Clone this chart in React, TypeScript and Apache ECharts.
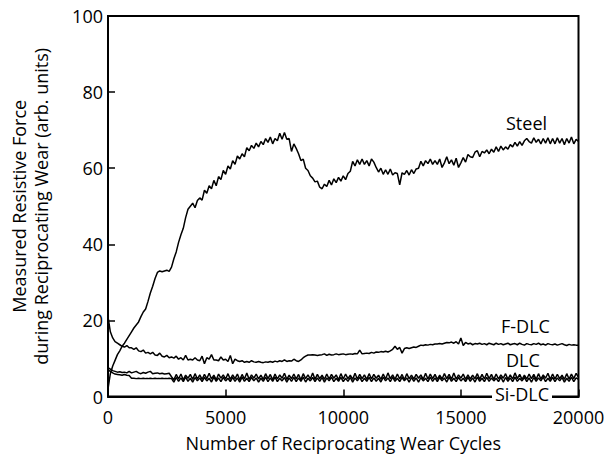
import React, { useEffect, useRef } from "react";
import * as echarts from "echarts";

// Sampling of the wear-cycle axis (every 100 cycles, 0..20000)
const cycles: number[] = Array.from({ length: 201 }, (_, i) => i * 100);

const steel: number[] = [
  2, 6, 8, 9.5, 11, 12, 13.2, 14, 15, 16,
  17, 18, 18.8, 19.6, 21, 22.2, 23, 25, 27.2, 29,
  31, 32.6, 33, 32.8, 33, 33.2, 32.9, 34, 36.2, 38,
  40.5, 42.5, 44.2, 47, 49.2, 50, 50.8, 49.6, 51.5, 52.2,
  51.6, 54.2, 53.4, 55.4, 54.6, 56.8, 55.4, 57.8, 57, 59.4,
  58.4, 60.6, 59.8, 62, 61, 63.2, 62.4, 63.8, 63, 65.4,
  64.6, 66, 65.2, 66.6, 65.6, 67, 66.2, 67.8, 66.8, 68.2,
  66.4, 67.8, 67.2, 69.2, 67.6, 69.4, 67.6, 67.8, 64.4, 66.4,
  65.2, 63.8, 62, 62.4, 60, 59.4, 58, 57.4, 56.4, 56.6,
  55, 54.6, 55.8, 55.2, 56.8, 55.6, 57.2, 56.2, 57.6, 56.6,
  58, 57, 58.6, 59.2, 61.8, 60.6, 62.2, 61, 62.4, 61,
  62, 60.6, 62.4, 61.6, 60.2, 59, 60, 58.4, 59.6, 58.4,
  59.8, 58.2, 58.8, 58.6, 55.6, 58.8, 58.4, 59.4, 58.2, 59.6,
  58.6, 59.8, 60, 61.8, 60.6, 62, 61.2, 62.4, 61, 62,
  61, 62.4, 60.2, 61.4, 63, 61.2, 62.2, 60.8, 62.6, 60.2,
  61.4, 62.8, 61.6, 63.6, 63, 62.8, 64.2, 64.6, 63, 64.4,
  64, 64.8, 63.8, 65, 64.2, 65.6, 64.4, 65.8, 64.8, 65.6,
  65, 66.2, 65.6, 66.8, 65.8, 67, 66, 67.2, 67.8, 67,
  66.6, 68, 66.8, 67.6, 66.4, 67.8, 66.6, 68, 66.4, 67.8,
  66.4, 68, 66.6, 67.8, 66.2, 67.8, 66.6, 68.2, 66.4, 67.6,
  67,
];

const fdlc: number[] = [
  21, 17, 15.4, 14.4, 14, 13.6, 13.2, 13, 13.4, 12.8,
  12.8, 12.4, 12.8, 12, 11.8, 12.2, 11.4, 11.6, 11.2, 11.6,
  10.9, 10.8, 11.4, 10.6, 10.4, 10.8, 10.2, 10.4, 10.1, 10.6,
  9.8, 10.2, 9.6, 10.8, 9.6, 9.8, 9.6, 10.2, 9.6, 9.4,
  10.6, 8.6, 10.2, 9.8, 11, 9.6, 9.6, 9.4, 10.4, 9.6,
  9.8, 9.2, 10.8, 8.6, 9.8, 9.4, 9.2, 9.4, 9.0, 9.2,
  9, 9.4, 9.1, 9, 9.2, 9, 8.9, 9.1, 9, 9.2,
  9, 9.3, 9.1, 9.4, 9.2, 9.6, 9.2, 9.4, 9.3, 9.8,
  9.4, 9.2, 9.6, 10.2, 10.6, 10.9, 10.9, 11, 10.9, 10.8,
  10.9, 11, 11.2, 10.8, 11.1, 10.9, 11, 11.2, 11, 11.1,
  11.2, 11, 11.1, 11.2, 11.1, 11.3, 11.2, 12.2, 11.2, 11.3,
  11.4, 11.3, 11.6, 11.4, 11.7, 11.6, 11.8, 11.7, 11.9, 11.7,
  12, 12.4, 13.2, 12.4, 12.9, 11.4, 12.6, 12.8, 12.6, 12.8,
  13, 12.9, 13.2, 13.5, 13.4, 13.6, 13.5, 13.7, 13.6, 13.8,
  13.8, 13.9, 13.8, 14, 14.2, 14.1, 14.3, 14, 14.4, 13.8,
  15.4, 13.4, 14.2, 13.8, 14, 13.6, 13.9, 13.8, 14, 13.7,
  13.9, 13.6, 14, 13.8, 13.6, 14, 13.7, 13.9, 13.6, 13.8,
  14, 13.6, 13.8, 13.9, 13.6, 14, 13.7, 13.5, 13.9, 13.7,
  13.6, 13.9, 13.7, 14, 13.6, 13.8, 13.5, 13.9, 13.7, 13.6,
  13.8, 13.5, 13.7, 13.9, 13.6, 13.4, 13.7, 13.5, 13.6, 13.5,
  13.5,
];

const dlc: number[] = [
  7.6, 7.2, 6.8, 6.6, 6.4, 6.5, 6.3, 6.4, 6.2, 6.6,
  6.2, 6.4, 6.6, 6.2, 6.0, 6.3, 6.1, 6.4, 6.6, 6.0,
  6.1, 6.2, 6.0, 6.1, 5.9, 6.0, 6.1, 5.2, 4.4, 5.8,
  4.6, 5.9, 4.4, 5.6, 4.8, 5.8, 4.5, 6.0, 4.6, 5.7,
  4.5, 5.8, 4.7, 6.1, 4.6, 5.6, 4.4, 5.9, 4.8, 5.7,
  4.6, 6.0, 4.5, 5.7, 4.7, 5.9, 4.4, 5.8, 4.6, 6.2,
  4.5, 5.7, 4.8, 5.9, 4.6, 5.6, 4.5, 6.0, 4.7, 5.8,
  4.4, 5.9, 4.6, 5.7, 4.8, 6.1, 4.5, 5.6, 4.7, 5.9,
  4.6, 5.8, 4.4, 6.0, 4.7, 5.7, 4.6, 6.2, 4.5, 5.8,
  4.7, 5.6, 4.5, 5.9, 4.6, 5.8, 4.8, 5.7, 4.4, 6.0,
  4.6, 5.9, 4.7, 5.6, 4.5, 6.1, 4.6, 5.8, 4.7, 5.7,
  4.5, 6.0, 4.6, 5.8, 4.8, 5.6, 4.5, 5.9, 4.6, 6.2,
  4.7, 5.7, 4.5, 5.9, 4.6, 5.8, 4.4, 6.0, 4.7, 5.6,
  4.6, 5.8, 4.8, 5.7, 4.5, 6.1, 4.6, 5.9, 4.7, 5.8,
  4.5, 5.6, 4.6, 6.0, 4.7, 5.8, 4.5, 6.2, 4.6, 5.7,
  4.8, 5.9, 4.5, 5.7, 4.6, 5.6, 4.7, 6.0, 4.5, 5.8,
  4.6, 6.1, 4.7, 5.8, 4.5, 5.9, 4.6, 5.7, 4.8, 6.0,
  4.5, 5.7, 4.6, 6.2, 4.7, 5.8, 4.5, 5.6, 4.6, 5.9,
  4.7, 5.8, 4.5, 6.0, 4.6, 5.7, 4.8, 6.1, 4.5, 5.9,
  4.6, 5.8, 4.7, 5.6, 4.5, 6.0, 4.6, 5.9, 4.7, 6.1,
  5.0,
];

const sidlc: number[] = [
  7.0, 6.6, 6.2, 5.9, 5.8, 5.7, 5.6, 5.8, 5.6, 5.5,
  4.8, 4.8, 4.7, 4.8, 4.7, 4.8, 4.7, 4.7, 4.8, 4.7,
  4.8, 4.7, 4.7, 4.8, 4.7, 4.7, 4.8, 4.7, 3.8, 5.0,
  4.0, 4.9, 3.9, 5.1, 4.0, 4.8, 3.8, 5.0, 4.1, 4.9,
  3.9, 5.0, 4.1, 4.8, 3.8, 5.1, 4.0, 4.9, 3.9, 5.0,
  4.1, 4.8, 3.9, 5.0, 4.0, 4.9, 3.8, 5.1, 4.0, 4.8,
  3.9, 5.0, 4.1, 4.9, 3.8, 4.8, 4.0, 5.1, 3.9, 4.9,
  4.0, 5.1, 3.9, 4.8, 4.1, 5.0, 3.8, 4.9, 4.0, 5.0,
  3.9, 4.9, 4.0, 5.1, 3.8, 4.8, 4.1, 5.0, 3.9, 4.9,
  4.0, 5.0, 3.8, 4.9, 4.1, 5.1, 3.9, 4.8, 4.0, 5.0,
  3.9, 4.8, 4.0, 5.0, 3.8, 4.9, 4.1, 5.1, 3.9, 4.8,
  4.0, 5.0, 3.9, 4.9, 4.0, 4.8, 3.8, 5.1, 4.1, 4.9,
  3.9, 5.1, 4.0, 4.8, 3.9, 5.0, 4.1, 4.9, 3.8, 5.0,
  4.0, 4.9, 3.8, 5.0, 4.1, 4.8, 3.9, 5.1, 4.0, 4.9,
  3.9, 5.0, 4.1, 4.9, 3.8, 5.1, 4.0, 4.8, 3.9, 5.0,
  4.1, 4.8, 3.9, 5.0, 4.0, 4.9, 3.8, 5.1, 4.0, 4.8,
  3.9, 5.0, 4.0, 4.9, 4.1, 4.8, 3.9, 5.1, 3.8, 5.0,
  4.0, 4.9, 3.9, 5.1, 4.0, 4.8, 4.1, 5.0, 3.9, 4.9,
  3.8, 5.0, 4.0, 4.9, 4.1, 5.1, 3.9, 4.8, 4.0, 5.0,
  3.9, 4.9, 4.1, 5.0, 3.8, 4.8, 4.0, 5.1, 3.9, 4.9,
  4.5,
];

const seriesNames = ["Steel", "F-DLC", "DLC", "Si-DLC"];
const xTicks = [0, 5000, 10000, 15000, 20000];
const yTicks = [0, 20, 40, 60, 80, 100];

const FONT = "'Open Sans', 'Noto Sans', sans-serif";

export default function App() {
  const ref = useRef<HTMLDivElement>(null);

  useEffect(() => {
    document.body.style.margin = "0";
    if (!ref.current) return;
    const chart = echarts.init(ref.current, undefined, { renderer: "svg" });

    const pairs = (vals: number[]) => cycles.map((c, i) => [c, vals[i]]);
    const all = [steel, fdlc, dlc, sidlc];

    const axisCommon = {
      axisLine: { show: true, lineStyle: { color: "#000", width: 2 } },
      axisTick: { show: true, inside: true, length: 7, lineStyle: { color: "#000", width: 1.5 } },
      splitLine: { show: false },
    };

    chart.setOption({
      animation: false,
      backgroundColor: "#fff",
      grid: {
        left: 108,
        right: 28.5,
        top: 16,
        bottom: 64.5,
        show: true,
        borderColor: "#000",
        borderWidth: 2,
        containLabel: false,
        outerBoundsMode: "none",
      },
      xAxis: {
        type: "value",
        min: xTicks[0],
        max: xTicks[xTicks.length - 1],
        interval: 5000,
        ...axisCommon,
        axisLabel: {
          color: "#000",
          fontFamily: FONT,
          fontSize: 18,
          margin: 11,
          formatter: (v: number) => String(v),
        },
        name: "Number of Reciprocating Wear Cycles",
        nameLocation: "middle",
        nameGap: 37,
        nameTextStyle: { color: "#000", fontFamily: FONT, fontSize: 18 },
      },
      yAxis: {
        type: "value",
        min: yTicks[0],
        max: yTicks[yTicks.length - 1],
        interval: 20,
        ...axisCommon,
        axisLabel: {
          color: "#000",
          fontFamily: FONT,
          fontSize: 18,
          margin: 5,
          formatter: (v: number) => String(v),
        },
        name: "Measured Resistive Force\nduring Reciprocating Wear (arb. units)",
        nameLocation: "middle",
        nameGap: 56,
        nameTextStyle: { color: "#000", fontFamily: FONT, fontSize: 18, lineHeight: 22 },
      },
      series: all.map((vals, k) => ({
        name: seriesNames[k],
        type: "line",
        data: pairs(vals),
        showSymbol: false,
        symbol: "none",
        lineStyle: { color: "#000", width: 1.5 },
        z: 3,
      })),
      graphic: [
        { type: "text", left: 506, top: 114, z: 10, style: { text: "Steel", font: `18px ${FONT}`, fill: "#000" } },
        { type: "text", left: 501, top: 317, z: 10, style: { text: "F-DLC", font: `18px ${FONT}`, fill: "#000" } },
        { type: "text", left: 506, top: 351, z: 10, style: { text: "DLC", font: `18px ${FONT}`, fill: "#000" } },
        {
          type: "text",
          left: 492,
          top: 385,
          z: 10,
          style: { text: "Si-DLC", font: `18px ${FONT}`, fill: "#000", backgroundColor: "#fff", padding: [0, 3] },
        },
      ],
    });

    return () => chart.dispose();
  }, []);

  return (
    <div
      ref={ref}
      style={{ position: "absolute", left: 0, top: 0, width: 607, height: 461 }}
    />
  );
}
